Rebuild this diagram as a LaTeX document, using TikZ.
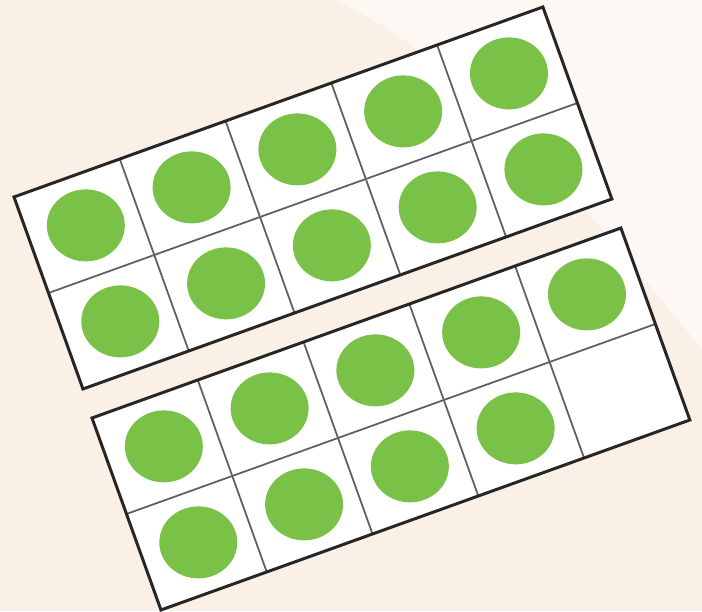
\documentclass[tikz,border=0pt]{standalone}
\usetikzlibrary{shapes.geometric}
\definecolor{dotgreen}{RGB}{122,193,72}
\definecolor{peach}{RGB}{251,240,230}
\definecolor{paleback}{RGB}{253,248,244}
\definecolor{gridgray}{RGB}{95,95,95}
\tikzset{
counter/.style={ellipse,fill=dotgreen,inner sep=0pt,minimum width=1.56cm,minimum height=1.44cm},
frameline/.style={line width=1.7pt,black!85},
cellline/.style={line width=1pt,gridgray}
}
\begin{document}
\begin{tikzpicture}[x=0.02cm,y=0.02cm]
\fill[peach] (0,0) rectangle (702,611);
\fill[paleback] (335,611) .. controls (480,545) and (620,360) .. (702,262) -- (702,611) -- cycle;
\useasboundingbox (0,0) rectangle (702,611);

\begin{scope}[shift={(14,414)},rotate=19.76]
\fill[white] (0,0) rectangle (562,-204);
\foreach \i in {1,...,4} \draw[cellline] (112.4*\i,0) -- (112.4*\i,-204);
\draw[cellline] (0,-102) -- (562,-102);
\draw[frameline] (0,0) rectangle (562,-204);
\foreach \c in {0,...,4}
  \foreach \r in {0,1}
    \node[counter] (top\c\r) at (112.4*\c+58,-102*\r-51) {};
\end{scope}

\begin{scope}[shift={(92,193)},rotate=19.76]
\fill[white] (0,0) rectangle (562,-204);
\foreach \i in {1,...,4} \draw[cellline] (112.4*\i,0) -- (112.4*\i,-204);
\draw[cellline] (0,-102) -- (562,-102);
\draw[frameline] (0,0) rectangle (562,-204);
\foreach \c in {0,...,4}
  \foreach \r in {0,1}
    {\ifnum\c\r=41\else
      \node[counter] (bot\c\r) at (112.4*\c+58,-102*\r-51) {};
    \fi}
\end{scope}
\end{tikzpicture}
\end{document}
